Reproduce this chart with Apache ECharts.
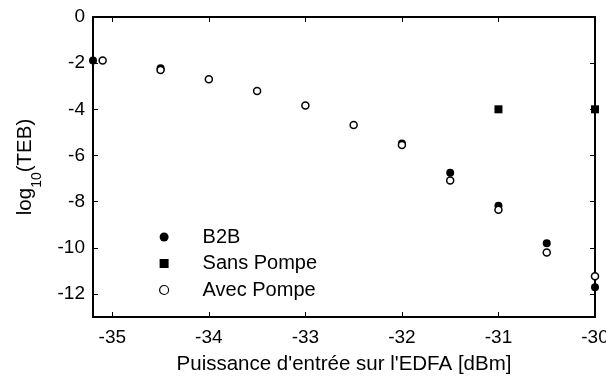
<!DOCTYPE html>
<html>
<head>
<meta charset="utf-8">
<script src="https://cdn.jsdelivr.net/npm/echarts@6/dist/echarts.min.js"></script>
<style>
  html, body { margin: 0; padding: 0; background: #fff; }
  #chart { width: 606px; height: 376px; }
</style>
</head>
<body>
<div id="chart"></div>
<script>
// Input power at the EDFA (dBm) and measured log10(BER)
const b2bX = [-35.2, -34.5, -32, -31.5, -31, -30.5, -30];
const b2bY = [-1.89, -2.22, -5.48, -6.75, -8.18, -9.80, -11.71];

const sansX = [-31, -30];
const sansY = [-4.0, -4.0];

const avecX = [-35.1, -34.5, -34, -33.5, -33, -32.5, -32, -31.5, -31, -30.5, -30];
const avecY = [-1.89, -2.30, -2.70, -3.21, -3.84, -4.68, -5.55, -7.09, -8.35, -10.21, -11.23];

const xTicks = [-35, -34, -33, -32, -31, -30];
const yTicks = [0, -2, -4, -6, -8, -10, -12];

const FONT = 'Liberation Sans, Arial, sans-serif';
const pairs = (xs, ys) => xs.map((x, i) => [x, ys[i]]);

const tickStyle = { color: '#000', width: 1 };
const lineStyle = { color: '#000', width: 2 };

const chart = echarts.init(document.getElementById('chart'), null, { renderer: 'canvas' });

chart.setOption({
  animation: false,
  backgroundColor: '#fff',
  grid: { left: 93, right: 11, top: 17, bottom: 59, containLabel: false, outerBoundsMode: 'none' },
  legend: {
    orient: 'vertical',
    left: 154,
    top: 222,
    itemWidth: 9,
    itemHeight: 9,
    itemGap: 6.5,
    textStyle: { fontFamily: FONT, fontSize: 20, color: '#000', lineHeight: 20, padding: [0, 0, 0, 29] },
    data: [
      { name: 'B2B' },
      { name: 'Sans Pompe' },
      { name: 'Avec Pompe', itemStyle: { borderWidth: 1.2 } }
    ]
  },
  xAxis: [
    {
      type: 'value', min: -35.2, max: -30, position: 'bottom',
      axisLine: { show: true, onZero: false, lineStyle },
      axisTick: { show: true, inside: true, length: 5, lineStyle: tickStyle, customValues: xTicks },
      axisLabel: { fontFamily: FONT, fontSize: 19, color: '#000', margin: 11, customValues: xTicks },
      splitLine: { show: false },
      name: "Puissance d'entrée sur l'EDFA [dBm]",
      nameLocation: 'middle', nameGap: 37,
      nameTextStyle: { fontFamily: FONT, fontSize: 20.5, color: '#000', verticalAlign: 'top' }
    },
    {
      type: 'value', min: -35.2, max: -30, position: 'top',
      axisLine: { show: true, onZero: false, lineStyle },
      axisTick: { show: true, inside: true, length: 5, lineStyle: tickStyle, customValues: xTicks },
      axisLabel: { show: false },
      splitLine: { show: false }
    }
  ],
  yAxis: [
    {
      type: 'value', min: -13, max: 0, position: 'left',
      axisLine: { show: true, onZero: false, lineStyle },
      axisTick: { show: true, inside: true, length: 5, lineStyle: tickStyle, customValues: yTicks },
      axisLabel: { fontFamily: FONT, fontSize: 19, color: '#000', margin: 8, customValues: yTicks },
      splitLine: { show: false },
      name: '{a|log}{b|10}{a|(TEB)}',
      nameLocation: 'middle', nameGap: 57, nameRotate: 90,
      nameTextStyle: {
        fontFamily: FONT, color: '#000',
        rich: {
          a: { fontFamily: FONT, fontSize: 20.5, color: '#000' },
          b: { fontFamily: FONT, fontSize: 14, color: '#000', verticalAlign: 'bottom', padding: [0, 0, -8, 0] }
        }
      }
    },
    {
      type: 'value', min: -13, max: 0, position: 'right',
      axisLine: { show: true, onZero: false, lineStyle },
      axisTick: { show: true, inside: true, length: 5, lineStyle: tickStyle, customValues: yTicks },
      axisLabel: { show: false },
      splitLine: { show: false }
    }
  ],
  series: [
    {
      name: 'B2B', type: 'scatter', symbol: 'circle', symbolSize: 8,
      itemStyle: { color: '#000', opacity: 1 },
      data: pairs(b2bX, b2bY), clip: false
    },
    {
      name: 'Sans Pompe', type: 'scatter', symbol: 'rect', symbolSize: 8,
      itemStyle: { color: '#000', opacity: 1 },
      data: pairs(sansX, sansY), clip: false
    },
    {
      name: 'Avec Pompe', type: 'scatter', symbol: 'circle', symbolSize: 7,
      itemStyle: { color: '#fff', borderColor: '#000', borderWidth: 1.5, opacity: 1 },
      data: pairs(avecX, avecY), clip: false
    }
  ]
});
</script>
</body>
</html>
